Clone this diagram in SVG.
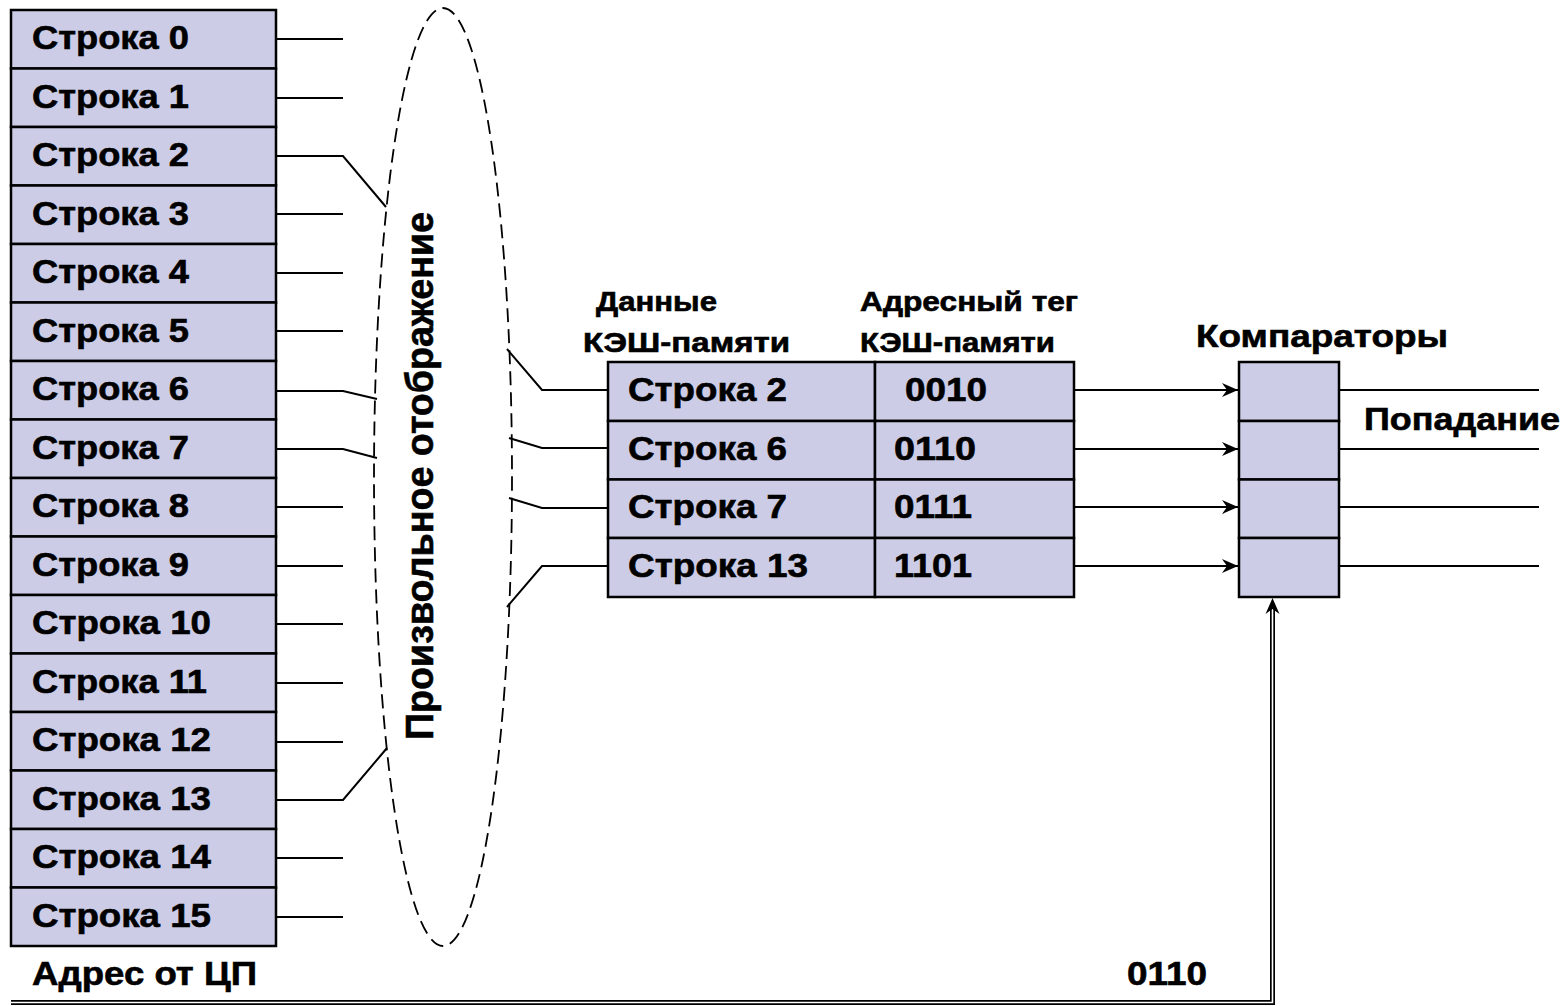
<svg xmlns="http://www.w3.org/2000/svg" width="1566" height="1006" viewBox="0 0 1566 1006">
<defs>
<style>
.cell{fill:#CCCCE6;stroke:#000;stroke-width:2.5}
.t{font-family:"Liberation Sans",Arial,sans-serif;font-weight:bold;fill:#000;stroke:#000;stroke-width:0.6}
.r{font-size:34px}
.h{font-size:27px}
.ln{fill:none;stroke:#000;stroke-width:2}
</style>
<marker id="ar" viewBox="0 0 16 14" refX="16" refY="7" markerWidth="16" markerHeight="14" markerUnits="userSpaceOnUse" orient="auto">
<path d="M0,0 L16,7 L0,14 L5,7 Z" fill="#000"/>
</marker>
</defs>
<rect width="1566" height="1006" fill="#fff"/>

<g id="memory">
<rect class="cell" x="11" y="10" width="265" height="58.5"/>
<rect class="cell" x="11" y="68.5" width="265" height="58.5"/>
<rect class="cell" x="11" y="127" width="265" height="58.5"/>
<rect class="cell" x="11" y="185.5" width="265" height="58.5"/>
<rect class="cell" x="11" y="244" width="265" height="58.5"/>
<rect class="cell" x="11" y="302.5" width="265" height="58.5"/>
<rect class="cell" x="11" y="361" width="265" height="58.5"/>
<rect class="cell" x="11" y="419.5" width="265" height="58.5"/>
<rect class="cell" x="11" y="478" width="265" height="58.5"/>
<rect class="cell" x="11" y="536.5" width="265" height="58.5"/>
<rect class="cell" x="11" y="595" width="265" height="58.5"/>
<rect class="cell" x="11" y="653.5" width="265" height="58.5"/>
<rect class="cell" x="11" y="712" width="265" height="58.5"/>
<rect class="cell" x="11" y="770.5" width="265" height="58.5"/>
<rect class="cell" x="11" y="829" width="265" height="58.5"/>
<rect class="cell" x="11" y="887.5" width="265" height="58.5"/>
<g class="t r">
<text x="32" y="49" textLength="157" lengthAdjust="spacingAndGlyphs">Строка 0</text>
<text x="32" y="107.5" textLength="157" lengthAdjust="spacingAndGlyphs">Строка 1</text>
<text x="32" y="166" textLength="157" lengthAdjust="spacingAndGlyphs">Строка 2</text>
<text x="32" y="224.5" textLength="157" lengthAdjust="spacingAndGlyphs">Строка 3</text>
<text x="32" y="283" textLength="157" lengthAdjust="spacingAndGlyphs">Строка 4</text>
<text x="32" y="341.5" textLength="157" lengthAdjust="spacingAndGlyphs">Строка 5</text>
<text x="32" y="400" textLength="157" lengthAdjust="spacingAndGlyphs">Строка 6</text>
<text x="32" y="458.5" textLength="157" lengthAdjust="spacingAndGlyphs">Строка 7</text>
<text x="32" y="517" textLength="157" lengthAdjust="spacingAndGlyphs">Строка 8</text>
<text x="32" y="575.5" textLength="157" lengthAdjust="spacingAndGlyphs">Строка 9</text>
<text x="32" y="634" textLength="179" lengthAdjust="spacingAndGlyphs">Строка 10</text>
<text x="32" y="692.5" textLength="175" lengthAdjust="spacingAndGlyphs">Строка 11</text>
<text x="32" y="751" textLength="179" lengthAdjust="spacingAndGlyphs">Строка 12</text>
<text x="32" y="809.5" textLength="179" lengthAdjust="spacingAndGlyphs">Строка 13</text>
<text x="32" y="868" textLength="179" lengthAdjust="spacingAndGlyphs">Строка 14</text>
<text x="32" y="926.5" textLength="179" lengthAdjust="spacingAndGlyphs">Строка 15</text>
</g>
</g>

<g id="mapping">
<ellipse cx="443" cy="477" rx="69" ry="469" fill="none" stroke="#000" stroke-width="1.8" stroke-dasharray="14 7"/>
<text class="t" font-size="38" transform="translate(433,476) rotate(-90)" text-anchor="middle" textLength="528" lengthAdjust="spacingAndGlyphs">Произвольное отображение</text>
</g>

<g id="cache">
<rect class="cell" x="608" y="362" width="267" height="59"/>
<rect class="cell" x="875" y="362" width="199" height="59"/>
<rect class="cell" x="608" y="421" width="267" height="58.5"/>
<rect class="cell" x="875" y="421" width="199" height="58.5"/>
<rect class="cell" x="608" y="479.5" width="267" height="58.5"/>
<rect class="cell" x="875" y="479.5" width="199" height="58.5"/>
<rect class="cell" x="608" y="538" width="267" height="59"/>
<rect class="cell" x="875" y="538" width="199" height="59"/>
<g class="t r">
<text x="628" y="401" textLength="159" lengthAdjust="spacingAndGlyphs">Строка 2</text>
<text x="905" y="401" textLength="82" lengthAdjust="spacingAndGlyphs">0010</text>
<text x="628" y="460" textLength="159" lengthAdjust="spacingAndGlyphs">Строка 6</text>
<text x="894" y="460" textLength="82" lengthAdjust="spacingAndGlyphs">0110</text>
<text x="628" y="518" textLength="159" lengthAdjust="spacingAndGlyphs">Строка 7</text>
<text x="894" y="518" textLength="78" lengthAdjust="spacingAndGlyphs">0111</text>
<text x="628" y="577" textLength="180" lengthAdjust="spacingAndGlyphs">Строка 13</text>
<text x="894" y="577" textLength="78" lengthAdjust="spacingAndGlyphs">1101</text>
</g>
<g class="t h">
<text x="596" y="311" textLength="121" lengthAdjust="spacingAndGlyphs">Данные</text>
<text x="583" y="352" textLength="207" lengthAdjust="spacingAndGlyphs">КЭШ-памяти</text>
<text x="860" y="311" textLength="218" lengthAdjust="spacingAndGlyphs">Адресный тег</text>
<text x="860" y="352" textLength="195" lengthAdjust="spacingAndGlyphs">КЭШ-памяти</text>
</g>
</g>

<g id="comparators">
<rect class="cell" x="1239" y="362" width="100" height="59"/>
<rect class="cell" x="1239" y="421" width="100" height="58.5"/>
<rect class="cell" x="1239" y="479.5" width="100" height="58.5"/>
<rect class="cell" x="1239" y="538" width="100" height="59"/>
<text class="t" font-size="32" x="1196" y="347" textLength="252" lengthAdjust="spacingAndGlyphs">Компараторы</text>
<text class="t" font-size="32" x="1364" y="430" textLength="196" lengthAdjust="spacingAndGlyphs">Попадание</text>
</g>

<g id="labels" class="t r">
<text x="32" y="985" textLength="225" lengthAdjust="spacingAndGlyphs">Адрес от ЦП</text>
<text x="1127" y="985" textLength="80" lengthAdjust="spacingAndGlyphs">0110</text>
</g>

<g id="connectors">
<g class="ln">
<path d="M276,39 H343"/>
<path d="M276,98 H343"/>
<path d="M276,156 H343 L386,207"/>
<path d="M276,214 H343"/>
<path d="M276,273 H343"/>
<path d="M276,331 H343"/>
<path d="M276,391 H343 L377,399"/>
<path d="M276,449 H343 L377,458"/>
<path d="M276,507 H343"/>
<path d="M276,566 H343"/>
<path d="M276,624 H343"/>
<path d="M276,683 H343"/>
<path d="M276,742 H343"/>
<path d="M276,800 H343 L387,748"/>
<path d="M276,858 H343"/>
<path d="M276,917 H343"/>
<path d="M507,349 L542,390 H608"/>
<path d="M509,438 L542,448 H608"/>
<path d="M509,498 L542,508 H608"/>
<path d="M507,607 L542,566 H608"/>
<path d="M1074,390 H1238" marker-end="url(#ar)"/>
<path d="M1074,449 H1238" marker-end="url(#ar)"/>
<path d="M1074,507 H1238" marker-end="url(#ar)"/>
<path d="M1074,566 H1238" marker-end="url(#ar)"/>
<path d="M1339,390 H1539"/>
<path d="M1339,449 H1539"/>
<path d="M1339,507 H1539"/>
<path d="M1339,566 H1539"/>
</g>
<path d="M11,1002.5 H1272.5 V606" fill="none" stroke="#000" stroke-width="5"/>
<path d="M11,1002.5 H1272.5 V606" fill="none" stroke="#fff" stroke-width="1.6"/>
<path d="M1272.5,598 L1279.5,614 L1272.5,609 L1265.5,614 Z" fill="#000"/>
</g>
</svg>
